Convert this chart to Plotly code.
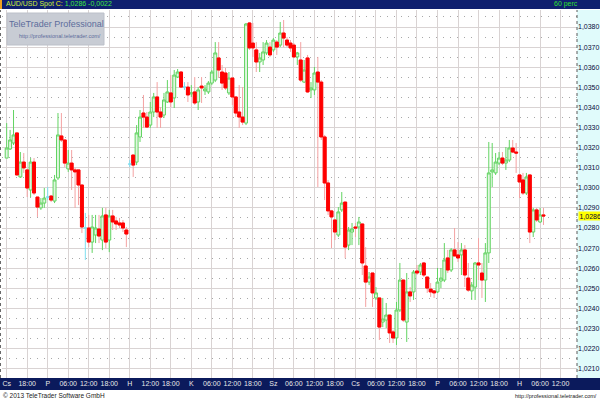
import plotly.graph_objects as go

# ---- data: AUD/USD Spot, 60 minute candles ----
opens = [1.03148,1.03193,1.03223,1.03273,1.03054,1.03128,1.03089,1.02989,1.03128,1.02954,
         1.02900,1.02924,1.02954,1.02959,1.02934,1.03049,1.03258,1.03238,1.03094,1.03123,
         1.03089,1.03089,1.03014,1.02800,1.02800,1.02730,1.02765,1.02795,1.02740,1.02865,
         1.02740,1.02860,1.02835,1.02825,1.02825,1.02790,1.03118,1.03163,1.03128,1.03253,
         1.03372,1.03352,1.03312,1.03377,1.03452,1.03377,1.03362,1.03427,1.03472,1.03447,
         1.03551,1.03576,1.03501,1.03501,1.03467,1.03477,1.03427,1.03506,1.03482,1.03477,
         1.03521,1.03536,1.03646,1.03576,1.03571,1.03472,1.03546,1.03452,1.03377,1.03352,
         1.03322,1.03820,1.03720,1.03686,1.03626,1.03636,1.03671,1.03700,1.03686,1.03725,
         1.03710,1.03770,1.03735,1.03720,1.03710,1.03651,1.03636,1.03526,1.03646,1.03487,
         1.03487,1.03576,1.03526,1.03253,1.03024,1.02885,1.02840,1.02765,1.02890,1.02929,
         1.02715,1.02780,1.02805,1.02805,1.02820,1.02611,1.02531,1.02576,1.02452,1.02452,
         1.02332,1.02342,1.02367,1.02283,1.02253,1.02392,1.02541,1.02332,1.02482,1.02482,
         1.02586,1.02581,1.02626,1.02556,1.02496,1.02487,1.02482,1.02536,1.02541,1.02651,
         1.02591,1.02691,1.02666,1.02666,1.02691,1.02551,1.02487,1.02506,1.02626,1.02576,
         1.02541,1.02676,1.03079,1.03074,1.03123,1.03148,1.03123,1.03138,1.03198,1.03178,
         1.03064,1.03039,1.02974,1.03064,1.02780,1.02890,1.02830,1.02865]
highs = [1.03322,1.03288,1.03387,1.03273,1.03178,1.03173,1.03089,1.03148,1.03148,1.02954,
         1.02949,1.02999,1.03004,1.02964,1.03064,1.03372,1.03372,1.03238,1.03188,1.03188,
         1.03099,1.03089,1.03014,1.02875,1.02865,1.02865,1.02865,1.02865,1.02900,1.02900,
         1.02890,1.02890,1.02855,1.02850,1.02840,1.02805,1.03138,1.03163,1.03312,1.03387,
         1.03462,1.03377,1.03427,1.03472,1.03526,1.03402,1.03472,1.03536,1.03561,1.03586,
         1.03591,1.03581,1.03526,1.03526,1.03511,1.03551,1.03501,1.03551,1.03511,1.03531,
         1.03586,1.03725,1.03725,1.03611,1.03596,1.03576,1.03546,1.03452,1.03511,1.03501,
         1.03820,1.03825,1.03820,1.03725,1.03671,1.03725,1.03735,1.03725,1.03745,1.03735,
         1.03825,1.03835,1.03750,1.03735,1.03720,1.03676,1.03725,1.03636,1.03661,1.03526,
         1.03601,1.03651,1.03536,1.03263,1.03039,1.02890,1.02840,1.02904,1.02979,1.02929,
         1.02805,1.02825,1.02825,1.02855,1.02820,1.02705,1.02581,1.02576,1.02506,1.02452,
         1.02452,1.02427,1.02367,1.02293,1.02432,1.02626,1.02541,1.02576,1.02506,1.02591,
         1.02616,1.02626,1.02631,1.02556,1.02526,1.02491,1.02601,1.02601,1.02725,1.02691,
         1.02700,1.02800,1.02730,1.02725,1.02715,1.02626,1.02531,1.02631,1.02750,1.02626,
         1.02725,1.03228,1.03223,1.03173,1.03178,1.03178,1.03203,1.03238,1.03238,1.03223,
         1.03064,1.03074,1.03074,1.03064,1.02900,1.02900,1.02900,1.02900]
lows = [1.03148,1.03188,1.03213,1.03064,1.03049,1.03074,1.02954,1.02954,1.02964,1.02855,
        1.02890,1.02900,1.02939,1.02929,1.02924,1.03039,1.03228,1.03103,1.03079,1.02989,
        1.02900,1.02914,1.02775,1.02641,1.02705,1.02676,1.02725,1.02725,1.02690,1.02700,
        1.02680,1.02790,1.02790,1.02800,1.02780,1.02705,1.03103,1.03054,1.03113,1.03228,
        1.03298,1.03298,1.03298,1.03352,1.03298,1.03298,1.03347,1.03422,1.03402,1.03397,
        1.03546,1.03497,1.03487,1.03427,1.03452,1.03412,1.03387,1.03422,1.03462,1.03467,
        1.03511,1.03526,1.03546,1.03487,1.03487,1.03462,1.03412,1.03352,1.03298,1.03312,
        1.03312,1.03686,1.03651,1.03576,1.03576,1.03611,1.03661,1.03651,1.03676,1.03661,
        1.03700,1.03700,1.03700,1.03676,1.03646,1.03611,1.03526,1.03521,1.03472,1.03447,
        1.03462,1.03004,1.03238,1.02939,1.02865,1.02700,1.02740,1.02755,1.02880,1.02650,
        1.02690,1.02715,1.02755,1.02715,1.02566,1.02407,1.02516,1.02407,1.02442,1.02243,
        1.02307,1.02302,1.02228,1.02228,1.02218,1.02382,1.02332,1.02233,1.02432,1.02442,
        1.02566,1.02566,1.02556,1.02477,1.02457,1.02452,1.02477,1.02501,1.02531,1.02576,
        1.02581,1.02661,1.02631,1.02566,1.02506,1.02482,1.02442,1.02442,1.02541,1.02452,
        1.02432,1.02626,1.03004,1.03064,1.03113,1.03113,1.03089,1.03128,1.03173,1.03074,
        1.02949,1.02964,1.02964,1.02725,1.02755,1.02830,1.02825,1.02815]
closes = [1.03198,1.03238,1.03263,1.03064,1.03128,1.03099,1.02999,1.03128,1.02974,1.02904,
          1.02924,1.02949,1.02954,1.02939,1.03039,1.03263,1.03238,1.03123,1.03123,1.03089,
          1.03079,1.03014,1.02805,1.02800,1.02730,1.02805,1.02800,1.02760,1.02860,1.02730,
          1.02860,1.02830,1.02820,1.02815,1.02800,1.02770,1.03118,1.03113,1.03273,1.03352,
          1.03352,1.03302,1.03377,1.03452,1.03377,1.03352,1.03437,1.03477,1.03427,1.03561,
          1.03576,1.03501,1.03501,1.03462,1.03472,1.03422,1.03487,1.03497,1.03492,1.03521,
          1.03576,1.03671,1.03586,1.03521,1.03497,1.03546,1.03452,1.03372,1.03352,1.03327,
          1.03815,1.03696,1.03696,1.03626,1.03646,1.03676,1.03720,1.03661,1.03735,1.03700,
          1.03770,1.03745,1.03710,1.03696,1.03651,1.03671,1.03536,1.03586,1.03477,1.03497,
          1.03571,1.03526,1.03253,1.03024,1.02885,1.02855,1.02780,1.02880,1.02924,1.02705,
          1.02790,1.02795,1.02800,1.02830,1.02626,1.02531,1.02556,1.02477,1.02477,1.02307,
          1.02347,1.02367,1.02278,1.02253,1.02392,1.02541,1.02342,1.02482,1.02462,1.02581,
          1.02576,1.02616,1.02566,1.02501,1.02482,1.02477,1.02531,1.02551,1.02641,1.02591,
          1.02691,1.02661,1.02651,1.02691,1.02566,1.02491,1.02516,1.02626,1.02616,1.02541,
          1.02676,1.03074,1.03089,1.03128,1.03148,1.03123,1.03138,1.03198,1.03178,1.03173,
          1.03029,1.02974,1.03054,1.02780,1.02890,1.02840,1.02865,1.02860]
candle_idx = list(range(len(closes)))

tick_pos = list(range(0, 163, 6))
tick_text = ["Cs", "18:00", "P", "06:00", "12:00", "18:00", "H", "12:00", "18:00", "K",
             "06:00", "12:00", "18:00", "Sz", "06:00", "12:00", "18:00", "Cs", "06:00",
             "12:00", "18:00", "P", "06:00", "12:00", "18:00", "H", "06:00", "12:00"]

last_price = 1.0286
change = -0.0022

FONT = "Liberation Sans, Arial, sans-serif"
GRID = "#d9d3d3"


def pick(cond):
    ids = [i for i in candle_idx if cond(opens[i], closes[i])]
    return (ids, [opens[i] for i in ids], [highs[i] for i in ids],
            [lows[i] for i in ids], [closes[i] for i in ids])


up = pick(lambda o, c: c > o)
dn = pick(lambda o, c: c < o)
dj = pick(lambda o, c: c == o)


def style(line, fill):
    return dict(line=dict(color=line, width=1), fillcolor=fill)


fig = go.Figure()
fig.add_trace(go.Candlestick(
    x=up[0], open=up[1], high=up[2], low=up[3], close=up[4],
    increasing=style("#62d462", "#e0f6e0"), decreasing=style("#62d462", "#e0f6e0"),
    hoverinfo="skip", whiskerwidth=0))
fig.add_trace(go.Candlestick(
    x=dn[0], open=dn[1], high=dn[2], low=dn[3], close=dn[4],
    increasing=style("#f4a2a2", "#ff0000"), decreasing=style("#f4a2a2", "#ff0000"),
    hoverinfo="skip", whiskerwidth=0))
# solid red bodies on top of the pink wicks
fig.add_trace(go.Candlestick(
    x=dn[0], open=dn[1], high=dn[1], low=dn[4], close=dn[4],
    increasing=style("#ff0000", "#ff0000"), decreasing=style("#ff0000", "#ff0000"),
    hoverinfo="skip", whiskerwidth=0))
fig.add_trace(go.Candlestick(
    x=dj[0], open=dj[1], high=dj[2], low=dj[3], close=dj[4],
    increasing=style("#7fdff0", "#7fdff0"), decreasing=style("#7fdff0", "#7fdff0"),
    hoverinfo="skip", whiskerwidth=0))

shapes = [
    # price strip on the right
    dict(type="rect", xref="paper", yref="paper", x0=577/600, x1=1, y0=22/400, y1=390/400,
         fillcolor="#e0fbfb", line=dict(width=0), layer="below"),
    dict(type="line", xref="paper", yref="paper", x0=577/600, x1=577/600, y0=22/400, y1=390/400,
         line=dict(color="#5a5a5a", width=1, dash="dot")),
    dict(type="line", xref="paper", yref="paper", x0=0.5/600, x1=0.5/600, y0=22/400, y1=390/400,
         line=dict(color="#6a6a6a", width=1, dash="dot")),
    # header bar
    dict(type="rect", xref="paper", yref="paper", x0=0, x1=1, y0=391/400, y1=1,
         fillcolor="#0f1f6e", line=dict(width=0), layer="below"),
    dict(type="rect", xref="paper", yref="paper", x0=0, x1=2/600, y0=391/400, y1=1,
         fillcolor="#f0a020", line=dict(width=0), layer="below"),
    # time axis bar
    dict(type="rect", xref="paper", yref="paper", x0=0, x1=1, y0=10/400, y1=22/400,
         fillcolor="#0b1a5c", line=dict(width=0), layer="below"),
    # watermark box
    dict(type="rect", xref="paper", yref="paper", x0=7/600, x1=104/600, y0=355/400, y1=387/400,
         fillcolor="#c8ccd4", line=dict(color="#bcc0c9", width=1), layer="above"),
]

price_txt = f"{last_price:.4f}".replace(".", ",")
chg_txt = f"{change:.4f}".replace(".", ",")

annotations = [
    dict(xref="paper", yref="paper", x=4/600, y=395.5/400, xanchor="left", yanchor="middle",
         showarrow=False,
         text=('<span style="color:#d2ee3a">AUD/USD Spot</span> '
               '<span style="color:#f2f200">C:</span> '
               '<span style="color:#3ee83e">%s %s</span>' % (price_txt, chg_txt)),
         font=dict(family=FONT, size=7)),
    dict(xref="paper", yref="paper", x=566/600, y=395.5/400, xanchor="center", yanchor="middle",
         showarrow=False, text="60 perc", font=dict(family=FONT, size=7, color="#2ee02e")),
    dict(xref="paper", yref="paper", x=56/600, y=376/400, xanchor="center", yanchor="middle",
         showarrow=False, text="TeleTrader Professional",
         font=dict(family=FONT, size=9, color="#5d6c9c")),
    dict(xref="paper", yref="paper", x=60/600, y=364.5/400, xanchor="center", yanchor="middle",
         showarrow=False, text="http://professional.teletrader.com/",
         font=dict(family=FONT, size=5.5, color="#5d6c9c")),
    dict(xref="paper", yref="paper", x=1/600, y=5/400, xanchor="left", yanchor="middle",
         showarrow=False, text="© 2013 TeleTrader Software GmbH",
         font=dict(family=FONT, size=6.5, color="#222222")),
    dict(xref="paper", yref="paper", x=599/600, y=4.5/400, xanchor="right", yanchor="middle",
         showarrow=False, text="http://professional.teletrader.com/",
         font=dict(family=FONT, size=5.5, color="#222222")),
    dict(xref="paper", yref="y", x=577.5/600, y=last_price, xanchor="left", yanchor="middle",
         showarrow=False, text=price_txt, bgcolor="#ffff00",
         borderpad=0.5, font=dict(family=FONT, size=7, color="#000030")),
]

fig.update_layout(
    template="none",
    width=600, height=400,
    margin=dict(l=0, r=0, t=0, b=0),
    paper_bgcolor="white", plot_bgcolor="white",
    showlegend=False, hovermode=False,
    boxgap=0.14, boxgroupgap=0,
    separators=", ",
    xaxis=dict(domain=[2/600, 577/600], range=[-1.37, 166.8], rangeslider=dict(visible=False),
               tickmode="array", tickvals=tick_pos, ticktext=tick_text, tickangle=0,
               showgrid=True, gridcolor=GRID, gridwidth=1, zeroline=False, showline=False,
               ticks="", tickfont=dict(family=FONT, size=7, color="#e8e8e8"),
               automargin=False, fixedrange=True),
    yaxis=dict(domain=[22/400, 390/400], range=[1.020537, 1.038846], side="right",
               tick0=1.0, dtick=0.001, tickformat=".4f",
               showgrid=True, gridcolor=GRID, gridwidth=1, zeroline=False, showline=False,
               ticks="", tickfont=dict(family=FONT, size=7, color="#0a0a3a"),
               minor=dict(tick0=1.0, dtick=0.0005, showgrid=True, gridcolor="#a8a8a8",
                          griddash="1px,6px", gridwidth=1),
               automargin=False, fixedrange=True),
    shapes=shapes, annotations=annotations,
)

fig.write_html("out.html", config={"displayModeBar": False, "staticPlot": True},
               post_script="document.body.style.margin='0';document.body.style.padding='0';")
